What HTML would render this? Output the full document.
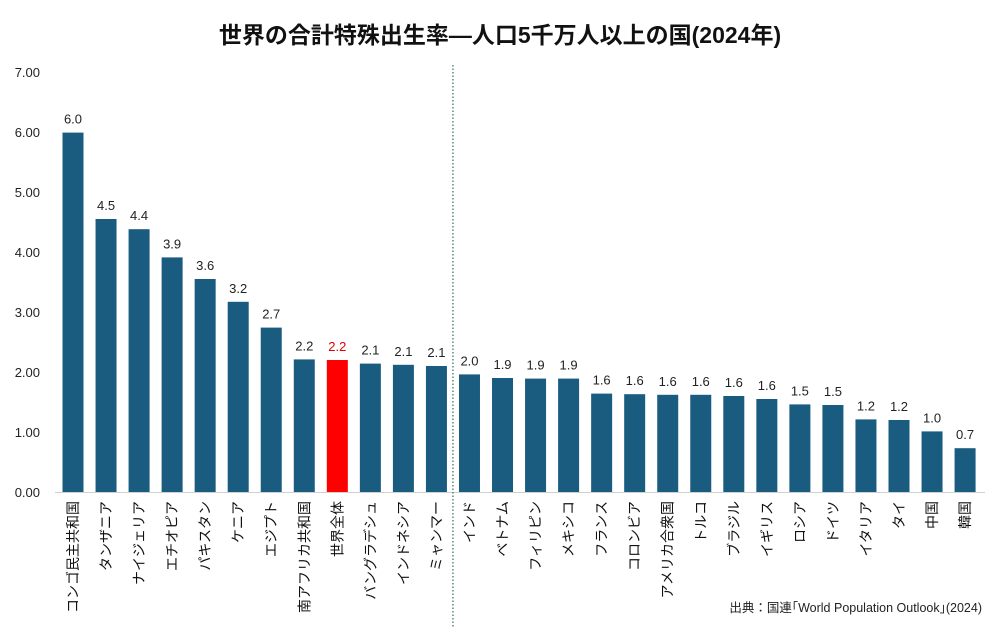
<!DOCTYPE html>
<html><head><meta charset="utf-8"><style>
body{margin:0;background:#fff;width:1000px;height:627px;overflow:hidden}
svg{font-family:"Liberation Sans","Noto Sans CJK JP",sans-serif}
</style></head><body>
<svg id="c" width="1000" height="627">
<text x="500" y="43" text-anchor="middle" font-size="23" font-weight="bold" fill="#111">世界の合計特殊出生率—人口5千万人以上の国(2024年)</text>
<text x="982" y="612" text-anchor="end" font-size="12.5" fill="#222">出典：国連｢World Population Outlook｣(2024)</text>
</svg>
<script>
const categories=["コンゴ民主共和国","タンザニア","ナイジェリア","エチオピア","パキスタン","ケニア","エジプト","南アフリカ共和国","世界全体","バングラデシュ","インドネシア","ミャンマー","インド","ベトナム","フィリピン","メキシコ","フランス","コロンビア","アメリカ合衆国","トルコ","ブラジル","イギリス","ロシア","ドイツ","イタリア","タイ","中国","韓国"];
const values=[5.99,4.55,4.38,3.91,3.55,3.17,2.74,2.21,2.2,2.14,2.12,2.1,1.96,1.9,1.89,1.89,1.64,1.63,1.62,1.62,1.6,1.55,1.46,1.45,1.21,1.2,1.01,0.73];
const labels=["6.0","4.5","4.4","3.9","3.6","3.2","2.7","2.2","2.2","2.1","2.1","2.1","2.0","1.9","1.9","1.9","1.6","1.6","1.6","1.6","1.6","1.6","1.5","1.5","1.2","1.2","1.0","0.7"];
const yTicks=[0,1,2,3,4,5,6,7];
const highlight="世界全体";
const svg=document.getElementById('c');
const NS="http://www.w3.org/2000/svg";
const y=v=>492-v*60;
const x=i=>73+i*33.04;
function mk(t,a){const e=document.createElementNS(NS,t);for(const k in a)e.setAttribute(k,a[k]);svg.appendChild(e);return e;}
yTicks.forEach(t=>{const e=mk('text',{x:40,y:y(t)+5,'text-anchor':'end','font-size':13,fill:'#222'});e.textContent=t.toFixed(2);

});
const ax=mk('line',{x1:55,x2:985,y1:492.5,y2:492.5,stroke:'#d0d0d0','stroke-width':1});


const sep=mk('line',{x1:(x(11)+x(12))/2,x2:(x(11)+x(12))/2,y1:65,y2:627,stroke:'#2e6b5e','stroke-width':1.2,'stroke-dasharray':'1.5,2'});


categories.forEach((c,i)=>{
 const hl=c===highlight;
 const b=mk('rect',{x:x(i)-10.5,y:y(values[i]),width:21,height:values[i]*60,fill:hl?'#ff0000':'#1a5c80'});
 
 
 const v=mk('text',{x:x(i),y:y(values[i])-9,'text-anchor':'middle','font-size':13,fill:hl?'#e00000':'#222'});
 v.textContent=labels[i];
 
 
 const l=mk('text',{x:0,y:0,'text-anchor':'end','font-size':14,fill:'#111',transform:`translate(${x(i)+5},501) rotate(-90)`});
 l.textContent=c;
 
 
});
</script>
</body></html>
